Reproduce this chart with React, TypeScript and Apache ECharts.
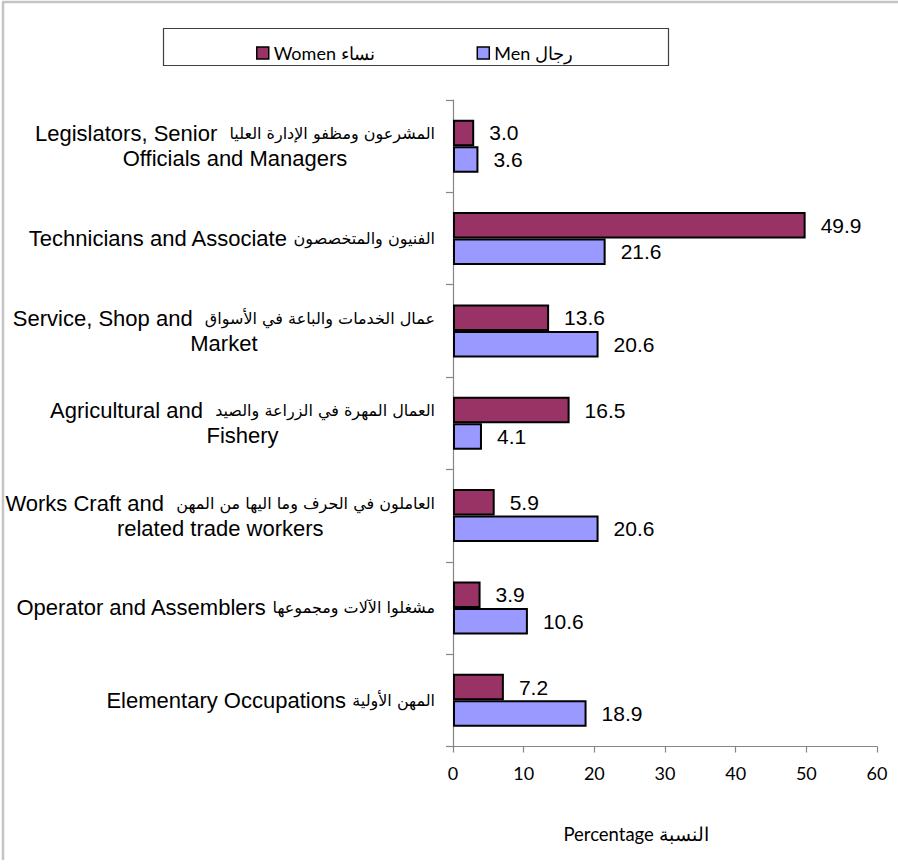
import React, { useEffect, useRef } from "react";
import * as echarts from "echarts";

const categories = [
  "Legislators, Senior  المشرعون ومظفو الإدارة العليا\nOfficials and Managers",
  "Technicians and Associate الفنيون والمتخصصون",
  "Service, Shop and  عمال الخدمات والباعة في الأسواق\nMarket",
  "Agricultural and  العمال المهرة في الزراعة والصيد\nFishery",
  "Works Craft and  العاملون في الحرف وما اليها من المهن\nrelated trade workers",
  "Operator and Assemblers مشغلوا الآلات ومجموعها",
  "Elementary Occupations المهن الأولية",
];
const womenValues = [3.0, 49.9, 13.6, 16.5, 5.9, 3.9, 7.2];
const menValues = [3.6, 21.6, 20.6, 4.1, 20.6, 10.6, 18.9];
const seriesNames = ["Women نساء", "Men رجال"];
const axisName = "Percentage النسبة";
const xMin = 0;
const xMax = 60;
const xStep = 10;

const arabicRun = /([\u0600-\u06FF][\u0600-\u06FF\s]*[\u0600-\u06FF]|[\u0600-\u06FF])/g;

function richLine(line: string): string {
  const parts = line.split(arabicRun).filter((s) => s.length > 0);
  return parts
    .map((p) => (/[\u0600-\u06FF]/.test(p) ? `{a|${p}}` : `{c|${p}}`))
    .join("");
}

export default function App() {
  const ref = useRef<HTMLDivElement>(null);
  useEffect(() => {
    if (!ref.current) return;
    const chart = echarts.init(ref.current, null, { renderer: "svg" });
    const labelFont = "'Liberation Sans', Arial, sans-serif";
    const arabicFont = "'DejaVu Sans', sans-serif";
    const uiFont = "Lato, 'Open Sans', sans-serif";
    chart.setOption({
      animation: false,
      backgroundColor: "#ffffff",
      grid: { left: 453, right: 21, top: 100, bottom: 120.5, outerBoundsMode: "none", containLabel: false },
      legend: {
        data: seriesNames,
        left: 251,
        top: 39,
        itemWidth: 12,
        itemHeight: 12,
        itemGap: 102,
        icon: "rect",
        itemStyle: { borderColor: "#000", borderWidth: 1.5 },
        textStyle: { fontFamily: uiFont, fontSize: 18, color: "#000" },
      },
      graphic: [
        { type: "line", shape: { x1: 3, y1: 2, x2: 3, y2: 860 }, style: { stroke: "#c4c4c4", lineWidth: 2.5 } },
        { type: "line", shape: { x1: 2, y1: 2, x2: 898, y2: 2 }, style: { stroke: "#c4c4c4", lineWidth: 2.5 } },
        {
          type: "rect",
          shape: { x: 163.5, y: 28.5, width: 505, height: 37 },
          style: { fill: "none", stroke: "#404040", lineWidth: 1.2 },
        },
      ],
      xAxis: {
        type: "value",
        min: xMin,
        max: xMax,
        interval: xStep,
        splitLine: { show: false },
        axisLine: { show: true, lineStyle: { color: "#868686", width: 1.2 } },
        axisTick: { show: true, length: 6, lineStyle: { color: "#868686", width: 1.2 } },
        axisLabel: { fontFamily: uiFont, fontSize: 18, color: "#000", margin: 17 },
        name: axisName,
        nameLocation: "middle",
        nameGap: 78,
        nameTextStyle: { fontFamily: uiFont, fontSize: 18.5, color: "#000", padding: [0, 58, 0, 0] },
      },
      yAxis: {
        type: "category",
        data: categories,
        inverse: true,
        axisLine: { show: true, lineStyle: { color: "#868686", width: 1.2 } },
        axisTick: { show: true, length: 7, lineStyle: { color: "#868686", width: 1.2 } },
        axisLabel: {
          interval: 0,
          align: "right",
          margin: 18,
          formatter: (v: string) => v.split("\n").map(richLine).join("\n"),
          rich: {
            c: {
              align: "center",
              fontFamily: labelFont,
              fontSize: 22,
              lineHeight: 25,
              color: "#000",
            },
            a: {
              align: "center",
              fontFamily: arabicFont,
              fontSize: 16,
              lineHeight: 25,
              color: "#000",
            },
          },
        },
      },
      series: [
        {
          name: seriesNames[0],
          type: "bar",
          data: womenValues,
          barWidth: 26.5,
          barGap: "0%",
          itemStyle: { color: "#993366", borderColor: "#000", borderWidth: 2 },
          label: {
            show: true,
            position: "right",
            distance: 15,
            formatter: (p: any) => Number(p.value).toFixed(1),
            fontFamily: labelFont,
            fontSize: 21,
            color: "#000",
          },
        },
        {
          name: seriesNames[1],
          type: "bar",
          data: menValues,
          barWidth: 26.5,
          barGap: "0%",
          itemStyle: { color: "#9999FF", borderColor: "#000", borderWidth: 2 },
          label: {
            show: true,
            position: "right",
            distance: 15,
            formatter: (p: any) => Number(p.value).toFixed(1),
            fontFamily: labelFont,
            fontSize: 21,
            color: "#000",
          },
        },
      ],
    });
    return () => chart.dispose();
  }, []);
  return (
    <div
      ref={ref}
      style={{ position: "fixed", left: 0, top: 0, width: 898, height: 867 }}
    />
  );
}
